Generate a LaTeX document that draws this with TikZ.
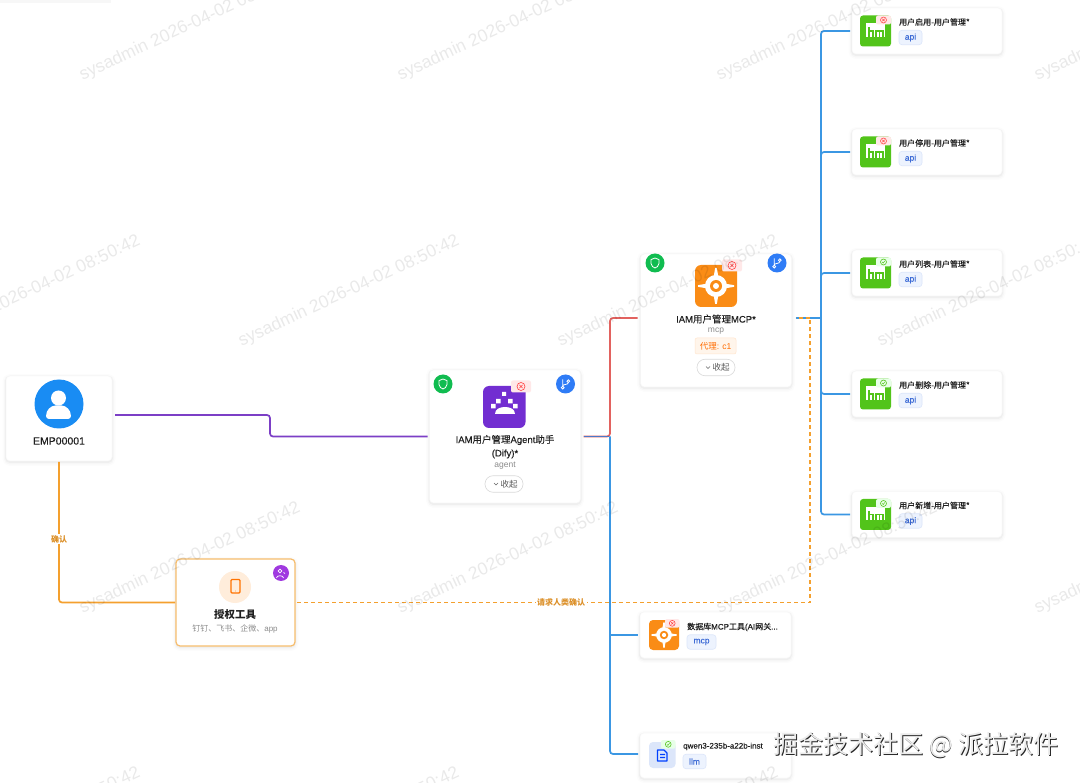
\documentclass[tikz,border=0pt]{standalone}
\usepackage{fontspec}
\setmainfont{Liberation Sans}
\newfontfamily\cjk{Noto Sans CJK SC}
\newfontfamily\cjkm[FakeBold=.15]{Noto Sans CJK SC}
\newfontfamily\latm[FakeBold=.15]{Liberation Sans}
\usetikzlibrary{calc}
\definecolor{cblue}{HTML}{3B97E3}
\definecolor{cpurple}{HTML}{7C3FC6}
\definecolor{cred}{HTML}{E2625F}
\definecolor{cmix}{HTML}{4A78C8}
\definecolor{corange}{HTML}{F4A02E}
\definecolor{cinkk}{HTML}{1F1F1F}
\definecolor{cgrey}{HTML}{8C8C8C}
\definecolor{ggreen}{HTML}{52C41A}
\definecolor{iorange}{HTML}{FA8C16}
\definecolor{ipurple}{HTML}{722ED1}
\definecolor{shgreen}{HTML}{10BC50}
\definecolor{brblue}{HTML}{2F7CF6}
\definecolor{tagfill}{HTML}{EDF3FE}
\definecolor{tagline}{HTML}{DCE6FA}
\definecolor{tagtext}{HTML}{3D6BD6}
\newcommand{\fs}[1]{\fontsize{#1}{#1}\selectfont}
\tikzset{
  card/.style={fill=white,rounded corners=4,draw=black!3,line width=.5,inner sep=0,outer sep=0,
    preaction={draw=black,draw opacity=.012,line width=7,transform canvas={yshift=-1.5}},
    preaction={draw=black,draw opacity=.02,line width=4,transform canvas={yshift=-1.5}},
    preaction={draw=black,draw opacity=.03,line width=2,transform canvas={yshift=-1}}},
  wire/.style={line width=1.7,rounded corners=3},
  title/.style={text=cinkk,inner sep=0,font=\fs{9.5}\latm},
  sub/.style={text=cgrey,inner sep=0,font=\fs{8.5}},
  small/.style={text=cinkk,inner sep=0,anchor=west,font=\fs{8}\latm},
  tagbox/.style={fill=tagfill,draw=tagline,line width=.6,rounded corners=3,text=tagtext,inner sep=0,font=\fs{8.5}\latm,minimum height=14.5},
  pill/.style={fill=white,draw=black!15,line width=.6,rounded corners=8,minimum width=38,minimum height=16.5,inner sep=0},
  pilltext/.style={inner sep=0,text=black!65,font=\fs{8.5}\cjk},
  chev/.style={draw=black!60,line width=.6},
  lbl/.style={fill=white,text=corange!90!black,inner sep=1.5,font=\fs{8}\bfseries},
  wm/.style={rotate=25,anchor=south west,inner sep=0,text=black,text opacity=.085,font=\fs{17.5}}
}
% state badge: corner x, y, width, fill, line, kind
\newcommand{\badge}[6]{%
  \fill[#4,rounded corners=2] (#1,#2) rectangle ++(#3,#3*0.6);
  \begin{scope}[shift={($(#1,#2)+(#3*0.5,#3*0.3)$)}]
    \draw[#5,line width=.6] (0,0) circle[radius=#3*0.2];
    \ifx#6b\draw[#5,line width=.5] (-#3*.08,-#3*.08) -- (#3*.08,#3*.08) (-#3*.08,#3*.08) -- (#3*.08,-#3*.08);
    \else\draw[#5,line width=.5] (-#3*.09,0) -- (-#3*.02,#3*.07) -- (#3*.09,-#3*.07);\fi
  \end{scope}}
\newcommand{\hmicon}[3]{% x y state
  \begin{scope}[shift={(#1,#2)}]
    \fill[ggreen,rounded corners=3] (0,0) rectangle (31,31);
    \fill[white] (6,8) rectangle (25,21.5);
    \draw[ggreen,line width=1.5] (9,12) -- (9,21.5) (9,15.5) -- (13,15.5) -- (13,21.5) (16,21.5) -- (16,15.5) -- (23,15.5) -- (23,21.5) (19.5,15.5) -- (19.5,21.5);
    \ifx#3b\badge{16}{0}{15}{red!9!white}{red!70!white}{b}\else\badge{16}{0}{15}{green!9!white}{ggreen}{g}\fi
  \end{scope}}
\newcommand{\apicard}[4]{% name cy label state
  \node[card,minimum width=150,minimum height=46] (#1) at (927,#2) {};
  \hmicon{860}{#2-15.5}{#4}
  \node[small,font=\fs{8}\cjkm] (#1t) at (899,#2-9) {#3*};
  \node[tagbox,minimum width=23] (#1g) at (910.5,#2+6.5) {api};
}
\newcommand{\gear}[2]{% center, unit
  \begin{scope}[shift={(#1)},scale=#2]
    \fill[white] (-1.5,-.07) -- (-.6,-.22) -- (-.6,.22) -- (-1.5,.07) -- cycle;
    \fill[white] (1.5,-.07) -- (.6,-.22) -- (.6,.22) -- (1.5,.07) -- cycle;
    \fill[white] (-.07,-1.5) -- (-.22,-.6) -- (.22,-.6) -- (.07,-1.5) -- cycle;
    \fill[white] (-.07,1.5) -- (-.22,.6) -- (.22,.6) -- (.07,1.5) -- cycle;
    \fill[white] (0,0) circle[radius=.92];
    \fill[iorange] (0,0) circle[radius=.5];
    \fill[white] (0,0) circle[radius=.25];
  \end{scope}}
\newcommand{\shieldb}[1]{%
  \fill[shgreen] (#1) circle[radius=9.5];
  \begin{scope}[shift={(#1)}]
    \draw[white,line width=.8,line join=round] (0,-5) -- (4,-3.4) -- (4,.5) .. controls (4,3) and (1.5,4.5) .. (0,5) .. controls (-1.5,4.5) and (-4,3) .. (-4,.5) -- (-4,-3.4) -- cycle;
  \end{scope}}
\newcommand{\branchb}[1]{%
  \fill[brblue] (#1) circle[radius=9.5];
  \begin{scope}[shift={(#1)}]
    \draw[white,line width=.8] (-2.8,3.6) circle[radius=1.4] (2.8,-2.8) circle[radius=1.4];
    \draw[white,line width=.8] (-2.8,2.2) -- (-2.8,-4.5) (-2.8,2) .. controls (-2.8,0) and (2.8,1) .. (2.8,-1.4);
  \end{scope}}
\begin{document}
\begin{tikzpicture}[x=1pt,y=-1pt]
\useasboundingbox (0,0) rectangle (1080,783);
\fill[white] (0,0) rectangle (1080,783);
\fill[black!3] (0,0) rectangle (111,3);

% ---------- nodes
\node[card,minimum width=106,minimum height=85] (emp) at (59,418.5) {};
\node[card,minimum width=151,minimum height=133] (agent) at (505,436.5) {};
\node[card,minimum width=151,minimum height=133] (mcp) at (716,320.5) {};
\node[card,draw=corange!70!white,line width=1.2,minimum width=119,minimum height=87] (auth) at (235.5,602.5) {};
\node[card,minimum width=151,minimum height=46] (db) at (715.5,635) {};
\node[card,minimum width=151,minimum height=45] (llm) at (715.5,755.5) {};
\apicard{a1}{31}{用户启用-用户管理}{b}
\apicard{a2}{152}{用户停用-用户管理}{b}
\apicard{a3}{273}{用户列表-用户管理}{g}
\apicard{a4}{394}{用户删除-用户管理}{g}
\apicard{a5}{514.5}{用户新增-用户管理}{g}

% ---------- connector ends
\coordinate (empOut) at ($(emp.east)+(3,-3.5)$);
\coordinate (empDown) at ($(emp.south)+(0,1)$);
\coordinate (agentIn) at ($(agent.west)+(-2,0)$);
\coordinate (agentOut) at ($(agent.east)+(3,0)$);
\coordinate (mcpIn) at ($(mcp.west)+(-3,-2.5)$);
\coordinate (mcpOut) at ($(mcp.east)+(4,-2.5)$);
\coordinate (authIn) at ($(auth.west)+(-1,0)$);
\coordinate (authOut) at ($(auth.east)+(2,0)$);
\coordinate (dbIn) at ($(db.west)+(-2,0)$);
\coordinate (llmIn) at ($(llm.west)+(-2,-1.5)$);
\foreach \n in {a1,a2,a3,a4,a5}{\coordinate (\n In) at ($(\n.west)+(-2,0)$);}

% ---------- connectors
\draw[wire,cpurple] (empOut) -- (270,415) -- (270,436.5) -- (agentIn);
\draw[wire,corange] (empDown) -- (59,602.5) -- (authIn);
\node[lbl] (lq) at (59,539) {\cjk 确认};
\draw[wire,cblue] (610,436.5) -- (610,754) -- (llmIn);
\draw[wire,cblue] (610,635) -- (dbIn);
\draw[wire,cred] (agentOut) -- (610,436.5) -- (610,318) -- (mcpIn);
\draw[wire,cmix,rounded corners=0] (agentOut) -- (609,436.5);
\draw[wire,cblue] (mcpOut) -- (821,318);
\foreach \n in {a1,a2,a3,a4,a5}{\draw[wire,cblue] (821,318) |- (\n In);}
\draw[line width=1.4,corange,dash pattern=on 4 off 3] (authOut) -- (810,602.5) -- (810,318) -- (mcpOut);
\node[lbl] (lr) at (561,602) {\cjk 请求人类确认};

% ---------- EMP
\fill[cblue!60!blue!70!cyan] (59,404) circle[radius=24.5];
\fill[white] (58.5,398) circle[radius=7.5];
\fill[white,rounded corners=3] (46,419) .. controls (46,410) and (51,405.5) .. (58.5,405.5) .. controls (66,405.5) and (71,410) .. (71,419) -- cycle;
\node[title,font=\fs{10.5}\latm] (empt) at (59,441) {EMP00001};

% ---------- agent
\fill[ipurple,rounded corners=6] (483,386) rectangle (525.5,428);
\fill[white] (502,392) rectangle (506,396) (496,399) rectangle (500.5,403.5) (508,399) rectangle (512.5,403.5) (491,404) rectangle (495.5,408.5) (513,404) rectangle (517.5,408.5);
\fill[white] (495,414) .. controls (495,409) and (500,407) .. (505,407) .. controls (510,407) and (515,409) .. (515,414) -- cycle;
\badge{511}{380.5}{20}{red!9!white}{red!75!white}{b}
\shieldb{443,384}
\branchb{565.5,384}
\node[title] (agt1) at (505,440) {IAM{\cjkm 用户管理}Agent{\cjkm 助手}};
\node[title] (agt2) at (505,454) {(Dify)*};
\node[sub] (agt3) at (505,465.5) {agent};
\node[pill] (agb) at (504,484) {};
\draw[chev] ($(agb.center)+(-10,-1)$) -- ++(2,2) -- ++(2,-2);
\node[pilltext] (agbt) at ($(agb.center)+(5,0)$) {收起};

% ---------- mcp
\fill[iorange,rounded corners=6] (695,265) rectangle (737,307);
\gear{716,286}{12}
\badge{722}{259.5}{20}{red!9!white}{red!75!white}{b}
\shieldb{655,263}
\branchb{777,263}
\node[title] (mt1) at (716,319) {IAM{\cjkm 用户管理}MCP*};
\node[sub] (mt2) at (716,331) {mcp};
\node[fill=orange!8!white,draw=orange!20!white,line width=.5,rounded corners=2,minimum width=41,minimum height=16,inner sep=0,text=orange!85!red,font=\fs{8.5}] (mtag) at (715.5,346) {{\cjk 代理}: c1};
\node[pill] (mb) at (716,367.5) {};
\draw[chev] ($(mb.center)+(-10,-1)$) -- ++(2,2) -- ++(2,-2);
\node[pilltext] (mbt) at ($(mb.center)+(5,0)$) {收起};

% ---------- auth
\fill[orange!14!white] (235,587) circle[radius=16];
\draw[orange!90!red,line width=1.1,rounded corners=1] (231,579.5) rectangle (240,593);
\fill[orange!90!red] (235.5,591) circle[radius=.4];
\fill[ipurple!75!magenta!90!white] (281,573) circle[radius=8];
\draw[white,line width=.7] (280,571) circle[radius=1.9] (276.5,578) .. controls (276.5,575) and (283.5,575) .. (283.5,578);
\draw[white,line width=.7] (283.5,572.5) -- (285,573.5);
\node[inner sep=0,text=cinkk,font=\fs{10.5}] (aut1) at (235,614.5) {\cjk\bfseries 授权工具};
\node[inner sep=0,text=cgrey,font=\fs{8}] (aut2) at (235,629) {{\cjk 钉钉、飞书、企微、}app};

% ---------- db
\fill[iorange,rounded corners=4] (649,620) rectangle (679,650);
\gear{664,635}{8.5}
\badge{665}{619}{14.5}{red!9!white}{red!75!white}{b}
\node[small] (dbt) at (687,627) {{\cjkm 数据库}MCP{\cjkm 工具}(AI{\cjkm 网关}...};
\node[tagbox,minimum width=29] (dbg) at (701.5,642) {mcp};

% ---------- llm
\fill[tagline,rounded corners=4] (649,742) rectangle (675.5,768);
\draw[blue!75!cyan,line width=1.1,line join=round] (657.5,750) -- (664,750) -- (667,753) -- (667,761) -- (657.5,761) -- cycle (660,754.5) -- (665,754.5) (660,757.5) -- (665,757.5);
\badge{661}{740}{14.5}{green!9!white}{ggreen}{g}
\node[small] (llmt) at (683,746.5) {qwen3-235b-a22b-inst};
\node[tagbox,minimum width=23] (llmg) at (694.5,761.5) {llm};

% ---------- watermarks
\foreach \a/\b in {84/84,402/84,721/84,1039/84,-76/350,243/350,562/350,882/350,84/617,402/617,721/617,1039/617,-76/882,243/882,562/882}
  \node[wm] at (\a,\b) {sysadmin 2026-04-02 08:50:42};

% ---------- publisher mark
\node[inner sep=0,text=black!85,font=\fs{25}] (pub0) at (916.8,746.4) {\cjk 掘金技术社区 @ 派拉软件};
\node[inner sep=0,text=black!8,font=\fs{25}] (pub) at (916,745.5) {\cjk 掘金技术社区 @ 派拉软件};
\end{tikzpicture}
\end{document}
